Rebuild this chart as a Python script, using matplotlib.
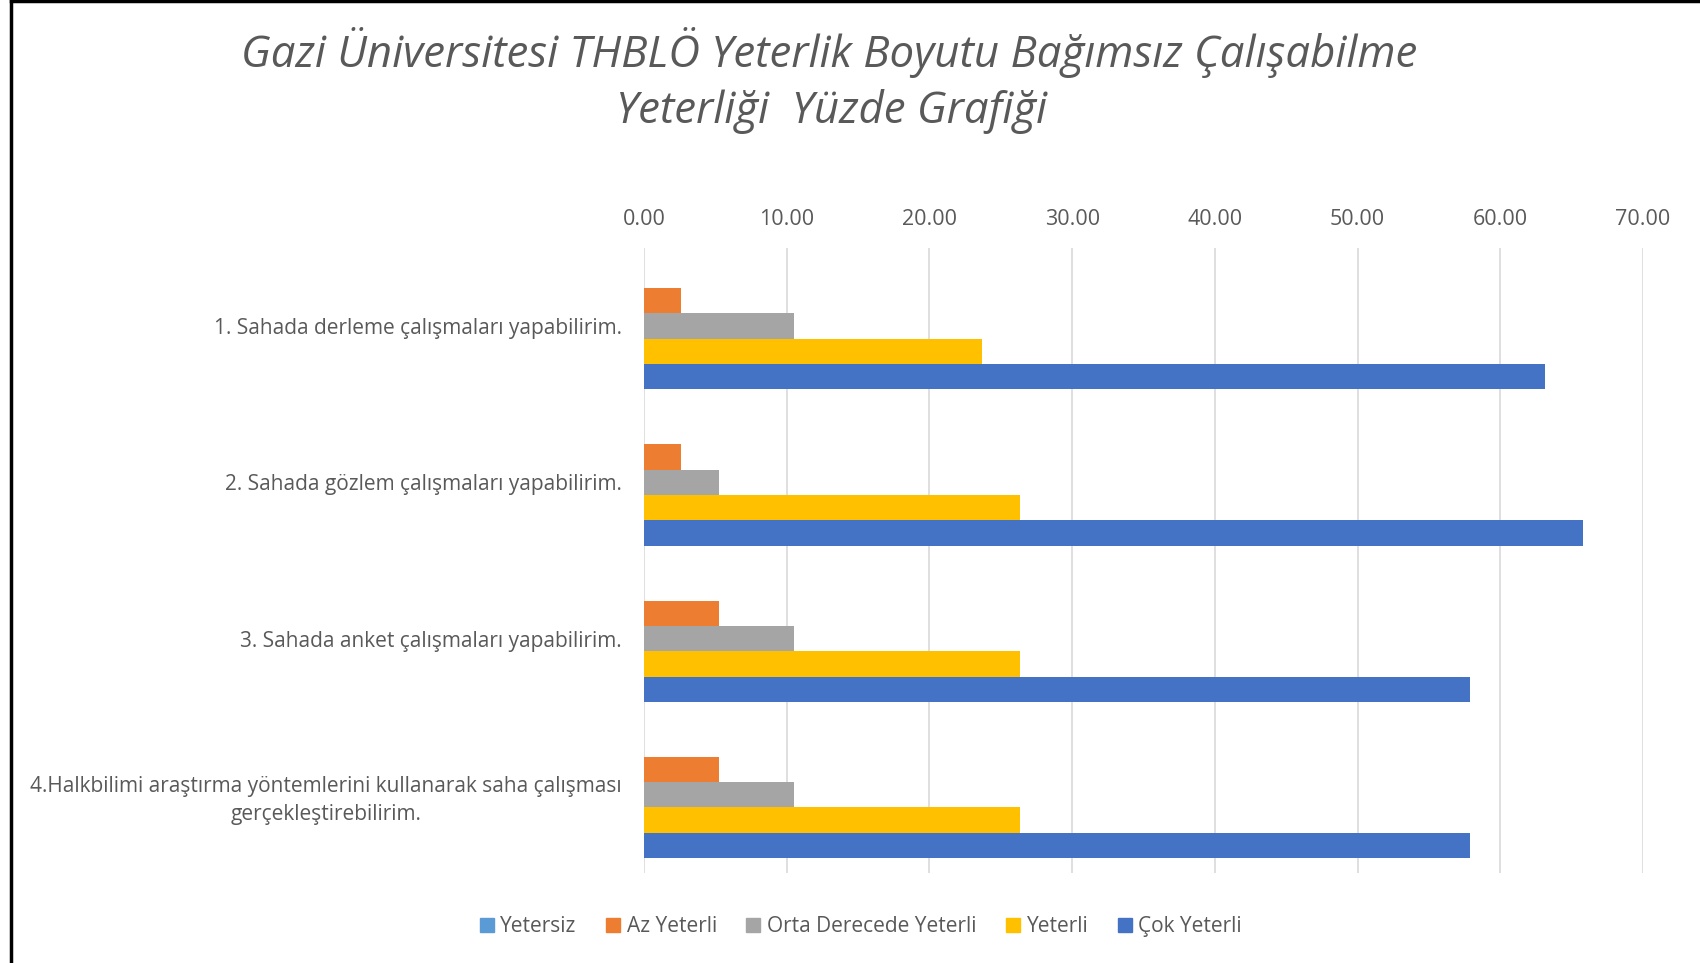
import numpy as np
import matplotlib.pyplot as plt
from matplotlib.lines import Line2D

categories = [
    "1. Sahada derleme çalışmaları yapabilirim.",
    "2. Sahada gözlem çalışmaları yapabilirim.",
    "3. Sahada anket çalışmaları yapabilirim.",
    "4.Halkbilimi araştırma yöntemlerini kullanarak saha çalışması\ngerçekleştirebilirim.",
]
series_names = ["Yetersiz", "Az Yeterli", "Orta Derecede Yeterli", "Yeterli", "Çok Yeterli"]
yetersiz = [0.00, 0.00, 0.00, 0.00]
az_yeterli = [2.63, 2.63, 5.26, 5.26]
orta = [10.53, 5.26, 10.53, 10.53]
yeterli = [23.68, 26.32, 26.32, 26.32]
cok_yeterli = [63.16, 65.79, 57.89, 57.89]
colors = ["#5B9BD5", "#ED7D31", "#A5A5A5", "#FFC000", "#4472C4"]
xticks = [0, 10, 20, 30, 40, 50, 60, 70]

plt.rcParams['font.family'] = ['Open Sans', 'DejaVu Sans']
text_color = "#595959"

fig = plt.figure(figsize=(17, 9.63), dpi=100)
ax = fig.add_axes([0.3788, 0.0935, 0.5877, 0.649])

values = [yetersiz, az_yeterli, orta, yeterli, cok_yeterli]
y = np.arange(len(categories))
w = 0.162
for j, (vals, name, c) in enumerate(zip(values, series_names, colors)):
    ax.barh(y + (j - 2) * w, vals, height=w, color=c, label=name)

ax.set_xlim(0, 70)
ax.set_ylim(3.5, -0.5)
ax.set_xticks(xticks)
ax.set_xticklabels([f"{t:.2f}" for t in xticks], fontsize=15.5, color=text_color)
ax.xaxis.tick_top()
ax.tick_params(axis='x', length=0, pad=13)
ax.set_yticks(y)
ax.set_yticklabels(categories, fontsize=15, color=text_color, ha='right',
                   multialignment='center', linespacing=1.4)
ax.tick_params(axis='y', length=0, pad=16)
ax.grid(axis='x', color="#D9D9D9", linewidth=1.2)
ax.set_axisbelow(True)
for s in ax.spines.values():
    s.set_visible(False)

fig.text(0.488, 0.946, "Gazi Üniversitesi THBLÖ Yeterlik Boyutu Bağımsız Çalışabilme",
         ha='center', va='center', fontsize=31.5, style='italic', color=text_color)
fig.text(0.489, 0.884, "Yeterliği  Yüzde Grafiği",
         ha='center', va='center', fontsize=31.5, style='italic', color=text_color)

handles = [Line2D([], [], marker='s', linestyle='', markersize=10, color=c) for c in colors]
fig.legend(handles, series_names, loc='center', bbox_to_anchor=(0.506, 0.038), ncol=5,
           frameon=False, fontsize=15, labelcolor=text_color, handletextpad=0.25,
           columnspacing=1.35, handlelength=0.8)

# border lines on left and top
fig.add_artist(Line2D([0.0065, 0.0065], [0, 1], color='black', linewidth=2.5,
                      transform=fig.transFigure))
fig.add_artist(Line2D([0.0065, 1], [0.999, 0.999], color='black', linewidth=2.5,
                      transform=fig.transFigure))

fig.savefig("out.png", dpi=100, facecolor='white')
